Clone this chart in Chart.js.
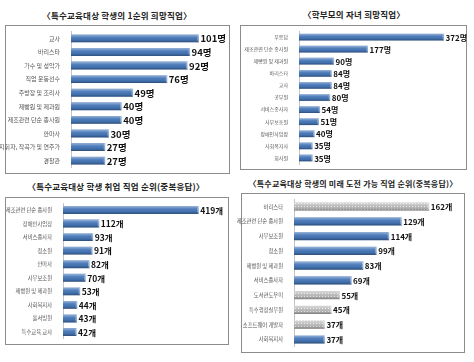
<!DOCTYPE html>
<html>
<head>
<meta charset="utf-8">
<script src="https://cdn.jsdelivr.net/npm/chart.js@4.4.1/dist/chart.umd.min.js"></script>
<style>
  body { margin: 0; background: #fff; width: 474px; height: 362px; position: relative; overflow: hidden;
         font-family: "Noto Sans CJK KR", sans-serif; }
  .title { position: absolute; font-size: 8.5px; font-weight: bold; color: #222; white-space: nowrap;
           transform: translate(-50%, -50%); letter-spacing: 0.2px; }
  .box { position: absolute; border: 1px solid #8c8c8c; box-sizing: border-box; background: #fff; z-index: 0; }
  canvas { position: absolute; z-index: 1; }
</style>
</head>
<body>
<div class="title" style="left:117px;top:15px">〈특수교육대상 학생의 1순위 희망직업〉</div>
<div class="title" style="left:354px;top:14px">〈학부모의 자녀 희망직업〉</div>
<div class="title" style="left:116px;top:186px">〈특수교육대상 학생 취업 직업 순위(중복응답)〉</div>
<div class="title" style="left:353px;top:183px;font-size:8px">〈특수교육대상 학생의 미래 도전 가능 직업 순위(중복응답)〉</div>

<div class="box" style="left:5px;top:25px;width:225px;height:149px"></div>
<div class="box" style="left:240px;top:25px;width:227px;height:145px"></div>
<div class="box" style="left:5px;top:197px;width:224px;height:148px"></div>
<div class="box" style="left:241px;top:193px;width:224px;height:160px"></div>

<canvas id="c1"></canvas>
<canvas id="c2"></canvas>
<canvas id="c3"></canvas>
<canvas id="c4"></canvas>

<script>
// 특수교육대상 학생의 1순위 희망직업 (명)
const jobs1 = ["교사", "바리스타", "가수 및 성악가", "직업 운동선수", "주방장 및 조리사",
  "제빵원 및 제과원", "제조관련 단순 종사원", "안마사", "지휘자, 작곡가 및 연주가", "경찰관"];
const counts1 = [101, 94, 92, 76, 49, 40, 40, 30, 27, 27];

// 학부모의 자녀 희망직업 (명)
const jobs2 = ["무응답", "제조관련 단순 종사원", "제빵원 및 제과원", "바리스타", "교사", "공무원",
  "서비스종사자", "사무보조원", "장애인사업장", "사회복지사", "회사원"];
const counts2 = [372, 177, 90, 84, 84, 80, 54, 51, 40, 35, 35];

// 특수교육대상 학생 취업 직업 순위 (개)
const jobs3 = ["제조관련 단순 종사원", "장애인사업장", "서비스종사자", "청소원", "안마사",
  "사무보조원", "제빵원 및 제과원", "사회복지사", "홀서빙원", "특수교육 교사"];
const counts3 = [419, 112, 93, 91, 82, 70, 53, 44, 43, 42];

// 특수교육대상 학생의 미래 도전 가능 직업 순위 (개)
const jobs4 = ["바리스타", "제조관련 단순 종사원", "사무보조원", "청소원", "제빵원 및 제과원",
  "서비스종사자", "도서관도우미", "특수행정실무원", "소프트웨어 개발자", "사회복지사"];
const counts4 = [162, 129, 114, 99, 83, 69, 55, 45, 37, 37];

const BLUE = "#4677b8";
const FONT = '"Noto Sans CJK KR", sans-serif';

// dotted light-gray fill for the highlighted bars in chart 4
function grayPattern() {
  const p = document.createElement("canvas");
  p.width = 3; p.height = 3;
  const g = p.getContext("2d");
  g.fillStyle = "#bcbcbc";
  g.fillRect(0, 0, 3, 3);
  g.fillStyle = "#ececec";
  g.fillRect(1, 1, 1, 1);
  return g.createPattern(p, "repeat");
}
const grayIdx4 = [0, 6, 7, 8];

// cylinder shading + value labels, drawn on top of the library's bars
const barStyle = {
  id: "barStyle",
  afterDatasetsDraw(chart, args, opts) {
    const ctx = chart.ctx;
    const meta = chart.getDatasetMeta(0);
    const data = chart.data.datasets[0].data;
    ctx.save();
    meta.data.forEach((bar, i) => {
      const { x, y, base, height } = bar.getProps(["x", "y", "base", "height"], true);
      const top = y - height / 2;
      const g = ctx.createLinearGradient(0, top, 0, top + height);
      g.addColorStop(0, "rgba(255,255,255,0.45)");
      g.addColorStop(0.35, "rgba(255,255,255,0.08)");
      g.addColorStop(0.7, "rgba(0,0,0,0.05)");
      g.addColorStop(1, "rgba(0,0,0,0.35)");
      ctx.fillStyle = g;
      ctx.fillRect(base, top, x - base, height);
      // rounded end cap
      ctx.beginPath();
      ctx.ellipse(x, y, 1.6, height / 2, 0, 0, Math.PI * 2);
      ctx.fillStyle = "rgba(255,255,255,0.35)";
      ctx.fill();
      // value
      ctx.fillStyle = "#111";
      ctx.font = opts.font;
      ctx.textBaseline = "middle";
      ctx.fillText(data[i] + opts.unit, x + 1.5, y + 0.5);
    });
    ctx.restore();
  },
};

function makeChart(id, left, top, w, h, labels, values, cfg) {
  const canvas = document.getElementById(id);
  canvas.width = w;
  canvas.height = h;
  canvas.style.left = `${left}px`;
  canvas.style.top = `${top}px`;
  canvas.style.width = `${w}px`;
  canvas.style.height = `${h}px`;
  return new Chart(canvas, {
    type: "bar",
    data: {
      labels,
      datasets: [{
        data: values,
        backgroundColor: cfg.colors || BLUE,
        borderWidth: 0,
        categoryPercentage: 1,
        barPercentage: cfg.barPct,
      }],
    },
    plugins: [barStyle],
    options: {
      indexAxis: "y",
      responsive: false,
      animation: false,
      layout: { padding: cfg.padding },
      plugins: {
        legend: { display: false },
        tooltip: { enabled: false },
        barStyle: { unit: cfg.unit, font: `bold ${cfg.valueSize}px ${FONT}` },
      },
      scales: {
        x: { display: false, min: 0, max: cfg.max },
        y: {
          afterFit(scale) { scale.width = cfg.axisW; },
          grid: { display: false },
          border: { display: true, color: "#c4c4c4" },
          ticks: { color: "#555", padding: 3, autoSkip: false, font: { family: FONT, size: cfg.tickSize } },
        },
      },
    },
  });
}

makeChart("c1", 0, 25, 230, 149, jobs1, counts1, {
  max: 120, axisW: 71, barPct: 0.58, unit: "명", valueSize: 9.5, tickSize: 6,
  padding: { top: 5, bottom: 4, right: 7, left: 0 },
});
makeChart("c2", 237, 25, 230, 145, jobs2, counts2, {
  max: 400, axisW: 62, barPct: 0.56, unit: "명", valueSize: 8, tickSize: 5,
  padding: { top: 4, bottom: 3, right: 12, left: 0 },
});
makeChart("c3", 0, 197, 229, 148, jobs3, counts3, {
  max: 500, axisW: 63, barPct: 0.58, unit: "개", valueSize: 8.5, tickSize: 5.3,
  padding: { top: 5, bottom: 4, right: 4, left: 0 },
});
const pat = grayPattern();
makeChart("c4", 237, 193, 228, 160, jobs4, counts4, {
  max: 200, axisW: 57, barPct: 0.55, unit: "개", valueSize: 8, tickSize: 5.3,
  padding: { top: 4, bottom: 6, right: 4, left: 0 },
  colors: counts4.map((_, i) => (grayIdx4.includes(i) ? pat : BLUE)),
});
</script>
</body>
</html>
